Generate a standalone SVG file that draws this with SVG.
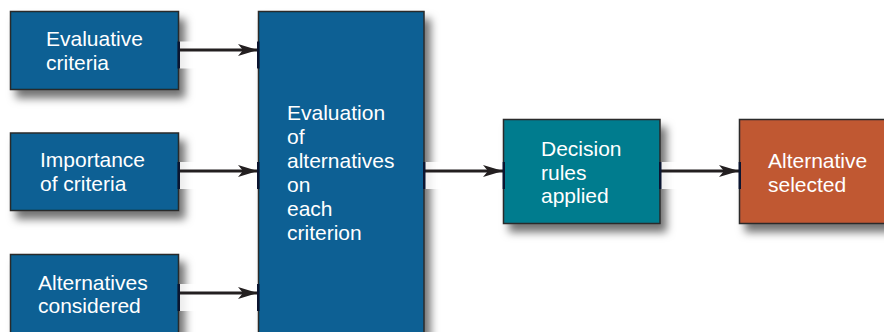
<svg xmlns="http://www.w3.org/2000/svg" width="884" height="332" viewBox="0 0 884 332">
<style>
.box{stroke:#2a2a2a;stroke-width:1.5}
.blue{fill:#0a6094}
.teal{fill:#007b8e}
.orange{fill:#c05833}
text{font-family:"Liberation Sans",Arial,Helvetica,sans-serif;font-size:21px;fill:#ffffff}
.ln{stroke:#231f20;stroke-width:3;fill:none}
.tick{fill:#0b1530}
.band{fill:#ffffff;opacity:0.85}
</style>
<defs>
<filter id="sh" x="-20%" y="-20%" width="150%" height="150%">
<feDropShadow dx="6" dy="8" stdDeviation="4" flood-color="#000" flood-opacity="0.55"/>
</filter>
<marker id="ah" viewBox="0 0 20 12" refX="20" refY="6" markerWidth="20" markerHeight="12" markerUnits="userSpaceOnUse" orient="auto">
<path d="M0,0 L20,6 L0,12 L5,6 Z" fill="#231f20"/>
</marker>
</defs>
<rect width="884" height="332" fill="#ffffff"/>
<g id="n1">
<rect class="box blue" x="10.5" y="11.5" width="168" height="78" filter="url(#sh)"/>
<text x="46" y="46">Evaluative</text>
<text x="46" y="70">criteria</text>
</g>
<g id="n2">
<rect class="box blue" x="10.5" y="133" width="168" height="77.5" filter="url(#sh)"/>
<text x="40" y="167">Importance</text>
<text x="40" y="191">of criteria</text>
</g>
<g id="n3">
<rect class="box blue" x="10.5" y="254.5" width="168" height="90" filter="url(#sh)"/>
<text x="38" y="290">Alternatives</text>
<text x="38" y="313">considered</text>
</g>
<g id="n4">
<rect class="box blue" x="258.5" y="11.5" width="165.5" height="335" filter="url(#sh)"/>
<text x="287" y="120">Evaluation</text>
<text x="287" y="144">of</text>
<text x="287" y="168">alternatives</text>
<text x="287" y="192">on</text>
<text x="287" y="216">each</text>
<text x="287" y="240">criterion</text>
</g>
<g id="n5">
<rect class="box teal" x="503.5" y="119.5" width="156.5" height="104" filter="url(#sh)"/>
<text x="541" y="156">Decision</text>
<text x="541" y="180">rules</text>
<text x="541" y="203">applied</text>
</g>
<g id="n6">
<rect class="box orange" x="739.5" y="119.5" width="150" height="104" filter="url(#sh)"/>
<text x="768" y="168">Alternative</text>
<text x="768" y="192">selected</text>
</g>
<g id="connectors">
<rect class="band" x="179.5" y="41.5" width="78" height="27"/>
<rect class="band" x="179.5" y="162" width="78" height="27"/>
<rect class="band" x="179.5" y="284" width="78" height="27"/>
<rect class="band" x="425" y="162" width="78" height="27"/>
<rect class="band" x="661" y="162" width="78" height="27"/>
<line class="ln" x1="179" y1="50" x2="258" y2="50" marker-end="url(#ah)"/>
<line class="ln" x1="179" y1="171" x2="258" y2="171" marker-end="url(#ah)"/>
<line class="ln" x1="179" y1="293" x2="258" y2="293" marker-end="url(#ah)"/>
<line class="ln" x1="424" y1="171" x2="503" y2="171" marker-end="url(#ah)"/>
<line class="ln" x1="660" y1="171" x2="739" y2="171" marker-end="url(#ah)"/>
<rect class="tick" x="177.5" y="41.5" width="2.5" height="27"/>
<rect class="tick" x="257" y="41.5" width="2.5" height="27"/>
<rect class="tick" x="177.5" y="162" width="2.5" height="27"/>
<rect class="tick" x="257" y="162" width="2.5" height="27"/>
<rect class="tick" x="177.5" y="284" width="2.5" height="27"/>
<rect class="tick" x="257" y="284" width="2.5" height="27"/>
<rect class="tick" x="423" y="162" width="2.5" height="27"/>
<rect class="tick" x="502.5" y="162" width="2.5" height="27"/>
<rect class="tick" x="659" y="162" width="2.5" height="27"/>
<rect class="tick" x="738.5" y="162" width="2.5" height="27"/>
</g>
</svg>
